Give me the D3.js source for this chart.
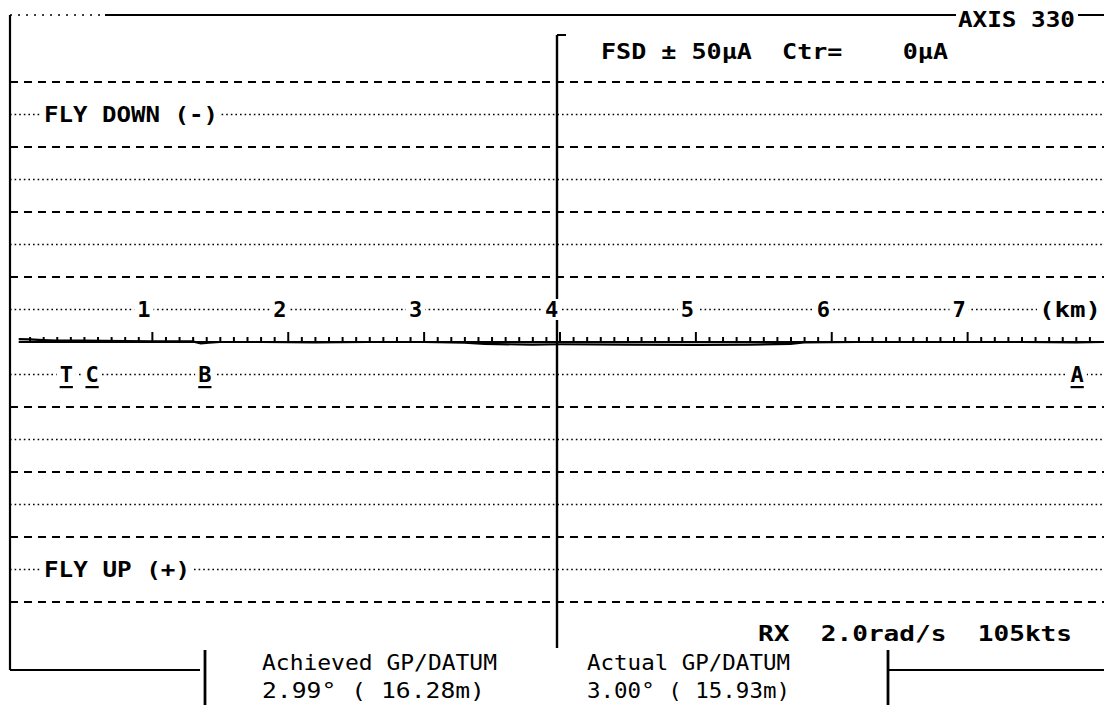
<!DOCTYPE html>
<html>
<head>
<meta charset="utf-8">
<script src="https://cdn.jsdelivr.net/npm/d3@7"></script>
<style>
  html, body { margin: 0; padding: 0; background: #fff; }
  svg { display: block; }
  text { font-family: "DejaVu Sans Mono", "Liberation Mono", monospace; fill: #000; }
</style>
</head>
<body>
<svg id="chart" width="1104" height="705"></svg>
<script>
// ---------- data ----------
const dashedLevels = [-40, -30, -20, -10, 10, 20, 30, 40];   // μA
const dottedLevels = [-35, -25, -15, -5, 5, 15, 25, 35];     // μA
const kmTicks = [1, 2, 3, 4, 5, 6, 7];
const kmTickLabels = ["1", "2", "3", "4", "5", "6", "7"];
const eventKm = [0.37, 0.56, 1.39, 7.81];
const eventLabels = ["T", "C", "B", "A"];
const traceKm  = [0.02, 0.1, 0.2, 0.3, 0.5, 0.8, 1.0, 1.3, 1.36, 1.42, 1.5, 1.8, 2.2, 2.6, 3.0, 3.3, 3.45, 3.8, 4.0, 4.5, 5.0, 5.4, 5.7, 5.8, 6.2, 6.6, 7.0, 7.4, 7.8, 8.0];
const traceDev = [-0.45, -0.4, -0.3, -0.2, -0.2, -0.15, -0.1, -0.1, 0.2, 0.1, 0.0, 0.0, 0.05, 0.0, 0.0, 0.1, 0.3, 0.4, 0.35, 0.4, 0.45, 0.4, 0.3, 0.05, 0.0, 0.0, 0.0, 0.0, 0.05, 0.0];
const headerText = "FSD \u00B1 50\u03BCA  Ctr=    0\u03BCA";
const axisTitle = "AXIS 330";
const flyDownText = "FLY DOWN (-)";
const flyUpText = "FLY UP (+)";
const rxText = "RX  2.0rad/s  105kts";
const achievedTitle = "Achieved GP/DATUM";
const achievedValue = "2.99\u00B0 ( 16.28m)";
const actualTitle = "Actual GP/DATUM";
const actualValue = "3.00\u00B0 ( 15.93m)";

// ---------- scales ----------
const W = 1104, H = 705;
const left = 10, right = 1104;
const x = d3.scaleLinear().domain([0, 8]).range([16, 1103]);
const y = d3.scaleLinear().domain([-50, 50]).range([17, 667]);

const svg = d3.select("#chart");
const g = svg.append("g");

// ---------- grid ----------
g.selectAll("line.dash").data(dashedLevels).join("line")
  .attr("x1", left).attr("x2", right)
  .attr("y1", d => y(d)).attr("y2", d => y(d))
  .attr("stroke", "#000").attr("stroke-width", 1.8)
  .attr("stroke-dasharray", "8,6");

g.selectAll("line.dot").data(dottedLevels).join("line")
  .attr("x1", left).attr("x2", right)
  .attr("y1", d => y(d)).attr("y2", d => y(d))
  .attr("stroke", "#000").attr("stroke-width", 1.5)
  .attr("stroke-dasharray", "1.6,3");

// ---------- frame ----------
function line(x1, y1, x2, y2, w = 2, dash = null) {
  const l = g.append("line").attr("x1", x1).attr("y1", y1).attr("x2", x2).attr("y2", y2)
    .attr("stroke", "#000").attr("stroke-width", w);
  if (dash) l.attr("stroke-dasharray", dash);
  return l;
}
line(left, 15, 105, 15, 1.5, "2,6");
line(105, 15, right, 15, 2);
line(left, 15, left, 670, 2.2);
line(left, 670, 200, 670, 2);
line(205, 650, 205, 705, 2.8);
line(888, 650, 888, 705, 2.8);
line(888, 670, right, 670, 2);
line(557, 35, 557, 648, 2.4);
line(557, 35, 566, 35, 2);

// ---------- text helper with white background ----------
const textLayer = svg.append("g");
function label(str, xx, yy, opts = {}) {
  const t = textLayer.append("text")
    .attr("x", xx).attr("y", yy)
    .attr("dominant-baseline", "central")
    .attr("text-anchor", opts.anchor || "start")
    .attr("font-size", opts.size || 22)
    .attr("font-weight", opts.weight || "bold")
    .style("white-space", "pre")
    .text(str);
  if (opts.len) t.attr("textLength", opts.len).attr("lengthAdjust", "spacingAndGlyphs");
  if (opts.underline) t.attr("text-decoration", "underline");
  if (opts.bg !== false) {
    const b = t.node().getBBox();
    textLayer.insert("rect", () => t.node())
      .attr("x", b.x - (opts.padL ?? 2)).attr("y", b.y + 2)
      .attr("width", b.width + (opts.padL ?? 2) + (opts.padR ?? 2)).attr("height", b.height - 4)
      .attr("fill", "#fff");
  }
  return t;
}

label(axisTitle, 958, 19, { len: 117, padL: 2, padR: 3 });
label(headerText, 601, 51, { len: 347, bg: false });
label(flyDownText, 44, y(-35), { len: 174 });
label(flyUpText, 44, y(35), { len: 146 });

// km labels
kmTicks.forEach((k, i) => label(kmTickLabels[i], x(k) - 8, y(-5), { anchor: "middle", padL: 3, padR: 3 }));
label("(km)", 1101, y(-5), { anchor: "end", len: 62 });

// event labels
eventKm.forEach((k, i) => label(eventLabels[i], x(k), y(5), { anchor: "middle", underline: true, padL: 3, padR: 3 }));

label(rxText, 758, 633, { len: 314, bg: false });
label(achievedTitle, 262, 662, { len: 235, weight: "normal", bg: false });
label(achievedValue, 262, 690, { len: 223, weight: "normal", bg: false });
label(actualTitle, 587, 662, { len: 203, weight: "normal", bg: false });
label(actualValue, 587, 690, { len: 203, weight: "normal", bg: false });

// ---------- distance axis (zero line with 0.1 km ticks) ----------
const minor = d3.range(1, 80).map(i => i / 10).filter(v => Math.abs(v - Math.round(v)) > 1e-6);
const axisG = svg.append("g").attr("transform", `translate(0,${y(0)})`);
axisG.call(d3.axisTop(x).tickValues(minor).tickSize(5).tickSizeOuter(0).tickFormat(""));
axisG.select(".domain").attr("stroke-width", 2).attr("d", `M${x(0.02)},0H${right}`);
axisG.selectAll(".tick line").attr("stroke-width", 2);

const majorG = svg.append("g").attr("transform", `translate(0,${y(0)})`);
majorG.call(d3.axisTop(x).tickValues(kmTicks).tickSize(10).tickFormat(""));
majorG.select(".domain").remove();
majorG.selectAll(".tick line").attr("stroke-width", 2);

// ---------- trace ----------
const tracePts = traceKm.map((k, i) => [k, traceDev[i]]);
svg.append("path")
  .datum(tracePts)
  .attr("fill", "none").attr("stroke", "#000").attr("stroke-width", 2.2)
  .attr("d", d3.line().x(d => x(d[0])).y(d => y(d[1])));
</script>
</body>
</html>
